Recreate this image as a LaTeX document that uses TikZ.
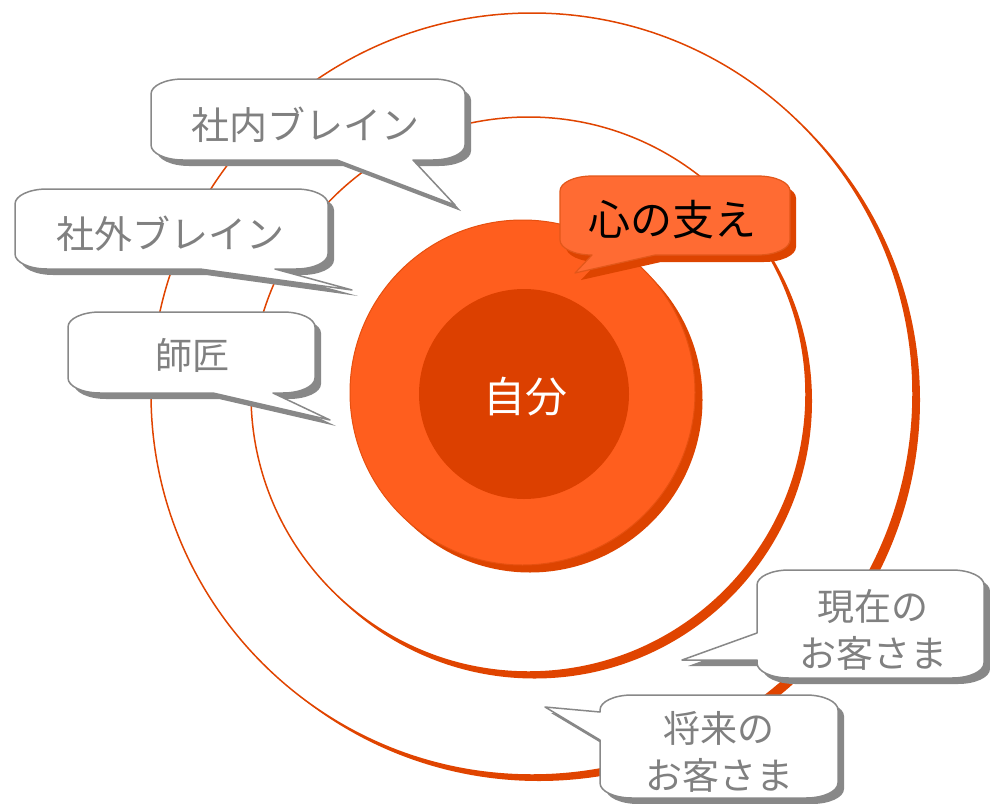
\documentclass[tikz,border=0pt]{standalone}
\usepackage{fontspec}
\newfontfamily\jp{Noto Sans CJK JP}
\usetikzlibrary{shadows}
\definecolor{ringc}{HTML}{E04400}
\definecolor{diskfill}{HTML}{FF5E1E}
\definecolor{diskline}{HTML}{E65010}
\definecolor{darkcore}{HTML}{DC4000}
\definecolor{shadowor}{HTML}{DD4400}
\definecolor{calloutor}{HTML}{FF6B33}
\definecolor{calloutorline}{HTML}{E2571A}
\definecolor{bubgray}{HTML}{888888}
\definecolor{txtgray}{HTML}{808080}
\tikzset{
  bubble/.style={fill=white, draw=bubgray, line width=1.5pt, line join=round,
    drop shadow={shadow xshift=6pt, shadow yshift=-6pt, fill=bubgray, opacity=1}},
  orbubble/.style={fill=calloutor, draw=calloutorline, line width=1.2pt, line join=round,
    drop shadow={shadow xshift=6pt, shadow yshift=-7pt, fill=shadowor, opacity=1}},
  graytext/.style={font=\jp\fontsize{38}{47}\selectfont, text=txtgray, align=center, inner sep=0pt},
}
\begin{document}
\begin{tikzpicture}[x=1pt, y=-1pt]
\useasboundingbox (0,0) rectangle (990,803);
% rings
\coordinate (c1) at (532,394);
\coordinate (c2) at (528.5,394.5);
\coordinate (c3) at (522.5,392.5);
\coordinate (c4) at (524,394);
\fill[ringc] ([shift={(7,6)}]c1) circle[radius=381];
\filldraw[fill=white, draw=ringc, line width=1.5pt] (c1) circle[radius=381];
\fill[ringc] ([shift={(6,6.5)}]c2) circle[radius=277.5];
\filldraw[fill=white, draw=ringc, line width=1.5pt] (c2) circle[radius=277.5];
\fill[shadowor] ([shift={(7.5,7.5)}]c3) circle[radius=172.5];
\filldraw[fill=diskfill, draw=diskline, line width=1pt] (c3) circle[radius=172.5];
\fill[darkcore] (c4) circle[radius=105];
\node[font=\jp\fontsize{42}{50}\selectfont, text=white, inner sep=0pt] (self) at (525,397) {自分};

% callout 1
\path[bubble] (183,79) -- (433,79) .. controls (450.7,79) and (465,85.7) .. (465,94)
  -- (465,145) .. controls (465,153.3) and (450.7,160) .. (433,160)
  -- (413,160) -- (455,205) -- (337,160)
  -- (183,160) .. controls (165.3,160) and (151,153.3) .. (151,145)
  -- (151,94) .. controls (151,85.7) and (165.3,79) .. (183,79) -- cycle;
\node[graytext] (inner) at (305.5,125) {社内ブレイン};

% callout 2
\path[bubble] (47,189) -- (296,189) .. controls (313.7,189) and (328,195.7) .. (328,204)
  -- (328,254) .. controls (328,262.3) and (313.7,269) .. (296,269)
  -- (275,269) -- (352,290) -- (200,269)
  -- (47,269) .. controls (29.3,269) and (15,262.3) .. (15,254)
  -- (15,204) .. controls (15,195.7) and (29.3,189) .. (47,189) -- cycle;
\node[graytext] (outer) at (170,233.5) {社外ブレイン};

% callout 3
\path[bubble] (100,312) -- (283,312) .. controls (300.7,312) and (315,318.7) .. (315,327)
  -- (315,378) .. controls (315,386.3) and (300.7,393) .. (283,393)
  -- (273,393) -- (330,420) -- (213,393)
  -- (100,393) .. controls (82.3,393) and (68,386.3) .. (68,378)
  -- (68,327) .. controls (68,318.7) and (82.3,312) .. (100,312) -- cycle;
\node[graytext, font=\jp\fontsize{37}{47}\selectfont] (master) at (192,355) {師匠};

% callout 4
\path[orbubble] (592,176) -- (758,176) .. controls (775.7,176) and (790,182.7) .. (790,191)
  -- (790,240) .. controls (790,248.3) and (775.7,255) .. (758,255)
  -- (655,255) -- (575,273) -- (592,255)
  .. controls (574.3,255) and (560,248.3) .. (560,240)
  -- (560,191) .. controls (560,182.7) and (574.3,176) .. (592,176) -- cycle;
\node[font=\jp\fontsize{42}{50}\selectfont, text=black, inner sep=0pt] (support) at (672,220) {心の支え};

% callout 5
\path[bubble] (789,570) -- (952,570) .. controls (969.7,570) and (984,576.7) .. (984,585)
  -- (984,663) .. controls (984,671.3) and (969.7,678) .. (952,678)
  -- (789,678) .. controls (771.3,678) and (757,671.3) .. (757,663)
  -- (757,660) -- (682,660) -- (757,633)
  -- (757,585) .. controls (757,576.7) and (771.3,570) .. (789,570) -- cycle;
\node[graytext, font=\jp\fontsize{37}{47}\selectfont] (current) at (873,629.5) {現在の\\お客さま};

% callout 6
\path[bubble] (632,695) -- (806,695) .. controls (823.7,695) and (838,701.7) .. (838,710)
  -- (838,783) .. controls (838,791.3) and (823.7,798) .. (806,798)
  -- (632,798) .. controls (614.3,798) and (600,791.3) .. (600,783)
  -- (600,740) -- (545,707) -- (600,712)
  -- (600,710) .. controls (600,701.7) and (614.3,695) .. (632,695) -- cycle;
\node[graytext, font=\jp\fontsize{37}{47}\selectfont] (future) at (719,751.5) {将来の\\お客さま};
\end{tikzpicture}
\end{document}
